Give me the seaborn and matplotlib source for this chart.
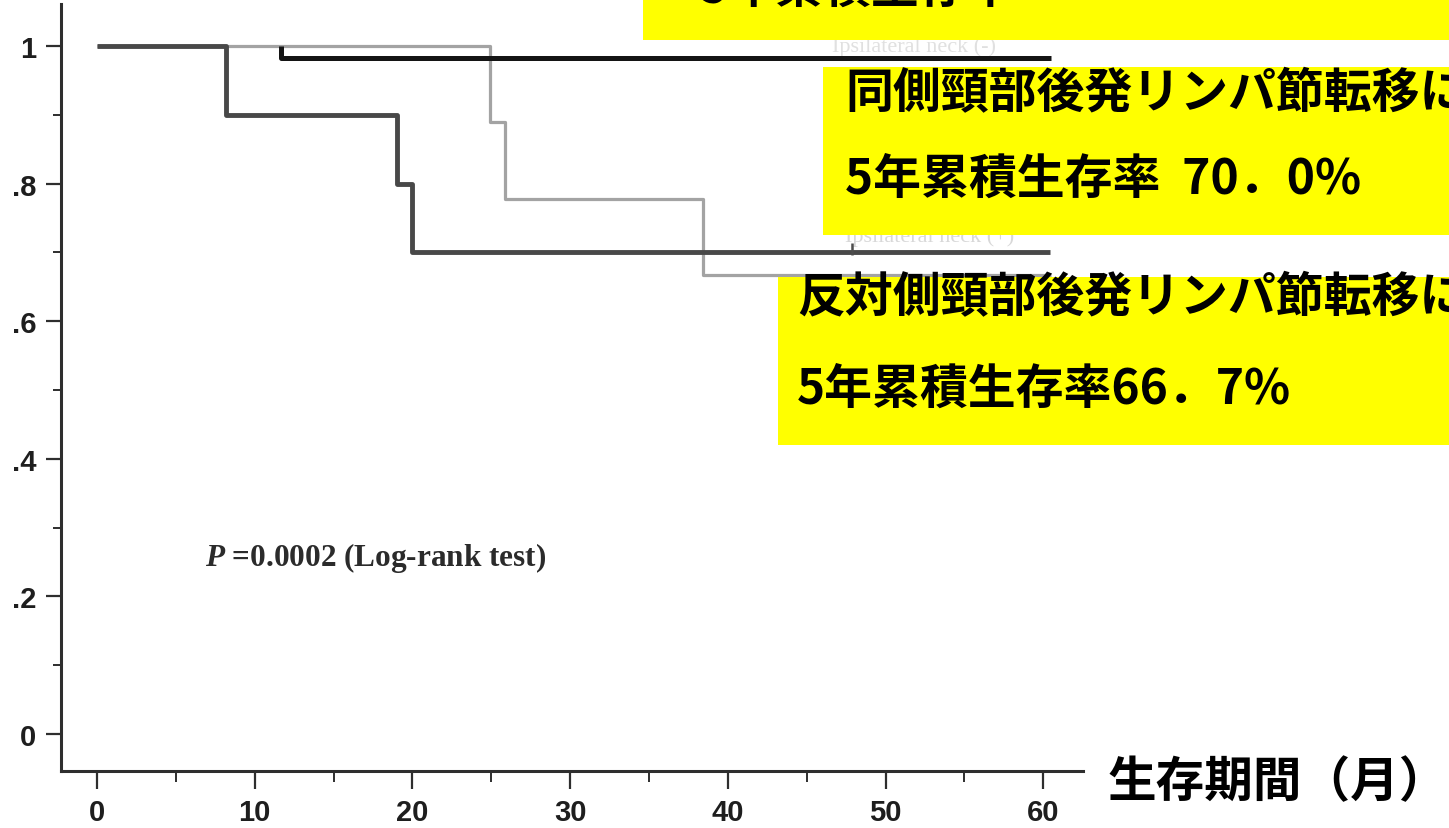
import matplotlib
matplotlib.use("Agg")
import matplotlib.pyplot as plt
from matplotlib.patches import Rectangle
from matplotlib.ticker import MultipleLocator
import seaborn as sns
import pandas as pd

# ---------------- data ----------------
contra_time = [0, 24.9, 25.9, 38.4, 60.5]
contra_surv = [1.0, 0.889, 0.778, 0.667, 0.667]

ipsi_time = [0, 8.2, 19.0, 20.0, 60.4]
ipsi_surv = [1.0, 0.9, 0.8, 0.7, 0.7]

none_time = [11.7, 11.7, 60.5]
none_surv = [1.0, 0.983, 0.983]

ipsi_censor_time = [47.9]
ipsi_censor_surv = [0.705]

x_ticks = [0, 10, 20, 30, 40, 50, 60]
x_tick_labels = ["0", "10", "20", "30", "40", "50", "60"]
y_ticks = [0, 0.2, 0.4, 0.6, 0.8, 1.0]
y_tick_labels = ["0", ".2", ".4", ".6", ".8", "1"]

box_top_line = "5年累積生存率"
box_ipsi_lines = ["同側頸部後発リンパ節転移による", "5年累積生存率  70．0%"]
box_contra_lines = ["反対側頸部後発リンパ節転移による", "5年累積生存率66．7%"]
x_label = "生存期間（月）"
p_text = r"$P$ =0.0002 (Log-rank test)"
faint_legend = ["Ipsilateral neck (-)", "Ipsilateral neck (+)"]

# ---------------- style ----------------
sns.set_theme(style="white")
plt.rcParams["font.family"] = ["Noto Sans CJK JP", "DejaVu Sans"]
plt.rcParams["mathtext.fontset"] = "custom"
plt.rcParams["mathtext.it"] = "Liberation Serif:italic:bold"
plt.rcParams["mathtext.rm"] = "Liberation Serif:bold"

W, H = 1449, 829
fig = plt.figure(figsize=(W / 100, H / 100), dpi=100)
fig.patch.set_facecolor("white")

ax_left, ax_right, ax_top, ax_bottom = 61, 1083, 5, 772
ax = fig.add_axes([ax_left / W, 1 - ax_bottom / H,
                   (ax_right - ax_left) / W, (ax_bottom - ax_top) / H])
ax.set_facecolor("white")

axis_col = "#2e2e2e"

df_contra = pd.DataFrame({"t": contra_time, "s": contra_surv})
df_ipsi = pd.DataFrame({"t": ipsi_time, "s": ipsi_surv})
df_none = pd.DataFrame({"t": none_time, "s": none_surv})

sns.lineplot(data=df_contra, x="t", y="s", ax=ax, color="#a3a3a3", linewidth=2.3,
             drawstyle="steps-post", estimator=None, sort=False, legend=False,
             solid_capstyle="butt", zorder=2)
sns.lineplot(data=df_ipsi, x="t", y="s", ax=ax, color="#484848", linewidth=3.5,
             drawstyle="steps-post", estimator=None, sort=False, legend=False,
             solid_capstyle="butt", zorder=3)
sns.lineplot(data=df_none, x="t", y="s", ax=ax, color="#141414", linewidth=3.6,
             drawstyle="steps-post", estimator=None, sort=False, legend=False,
             solid_capstyle="butt", zorder=4)
sns.scatterplot(x=ipsi_censor_time, y=ipsi_censor_surv, ax=ax, marker="|", s=70,
                color="#4d4d4d", linewidth=1.8, zorder=3, legend=False)

ax.set_xlim(-2.28, 62.52)
ax.set_ylim(-0.0538, 1.061)

ax.set_xticks(x_ticks)
ax.set_xticklabels(x_tick_labels)
ax.set_yticks(y_ticks)
ax.set_yticklabels(y_tick_labels)
ax.xaxis.set_minor_locator(MultipleLocator(5))
ax.yaxis.set_minor_locator(MultipleLocator(0.1))

for lab in ax.get_xticklabels() + ax.get_yticklabels():
    lab.set_fontfamily("Liberation Sans")
    lab.set_fontweight("bold")
    lab.set_fontsize(21)
    lab.set_color("#1e1e1e")

ax.tick_params(axis="x", which="major", length=13, width=1.6, color=axis_col,
               direction="out", pad=6.5, bottom=True)
ax.tick_params(axis="x", which="minor", length=8, width=1.4, color=axis_col,
               direction="out", bottom=True)
ax.tick_params(axis="y", which="major", length=10.8, width=1.6, color=axis_col,
               direction="out", pad=7, left=True)
ax.tick_params(axis="y", which="minor", length=5.8, width=1.4, color=axis_col,
               direction="out", left=True)

for side in ["top", "right"]:
    ax.spines[side].set_visible(False)
for side in ["left", "bottom"]:
    ax.spines[side].set_linewidth(2.2)
    ax.spines[side].set_color(axis_col)

ax.set_xlabel("")
ax.set_ylabel("")
ax.grid(False)

# p-value annotation
ax.text(6.85, 0.246, p_text, fontfamily="Liberation Serif", fontweight="bold",
        fontsize=22.5, color="#2b2b2b", va="baseline", ha="left")

# faint remnants of the original legend (mostly hidden under the yellow boxes)
ax.text(46.6, 0.992, faint_legend[0], fontfamily="Liberation Serif", fontsize=16,
        color="#e0e0e0", va="baseline", ha="left", zorder=1)
ax.text(47.4, 0.716, faint_legend[1], fontfamily="Liberation Serif", fontsize=16,
        color="#d8d8d8", va="baseline", ha="left", zorder=1)


def fx(px):
    return px / W


def fy(py):
    return 1 - py / H


yellow = "#ffff00"
# yellow boxes (x0, y0, x1, y1 in pixel coords from top-left)
for (x0, y0, x1, y1) in [(643, -5, 1460, 41), (823, 68, 1460, 236), (778, 278, 1460, 446)]:
    fig.patches.append(Rectangle((fx(x0), fy(y1)), fx(x1) - fx(x0), fy(y0) - fy(y1),
                                 transform=fig.transFigure, facecolor=yellow,
                                 edgecolor="none", zorder=1))

txt_kw = dict(fontfamily=["Noto Sans CJK JP", "DejaVu Sans"], fontweight="bold",
              fontsize=34.5, color="black", va="baseline", ha="left", zorder=3)
fig.text(fx(700), fy(3), box_top_line, **txt_kw)
fig.text(fx(845), fy(108), box_ipsi_lines[0], **txt_kw)
fig.text(fx(845), fy(194), box_ipsi_lines[1], **txt_kw)
fig.text(fx(797), fy(312), box_contra_lines[0], **txt_kw)
fig.text(fx(797), fy(404), box_contra_lines[1], **txt_kw)

fig.text(fx(1108), fy(797), x_label, fontfamily=["Noto Sans CJK JP", "DejaVu Sans"],
         fontweight="bold", fontsize=35, color="black", va="baseline", ha="left", zorder=3)

fig.savefig("out.png", dpi=100, facecolor="white")
